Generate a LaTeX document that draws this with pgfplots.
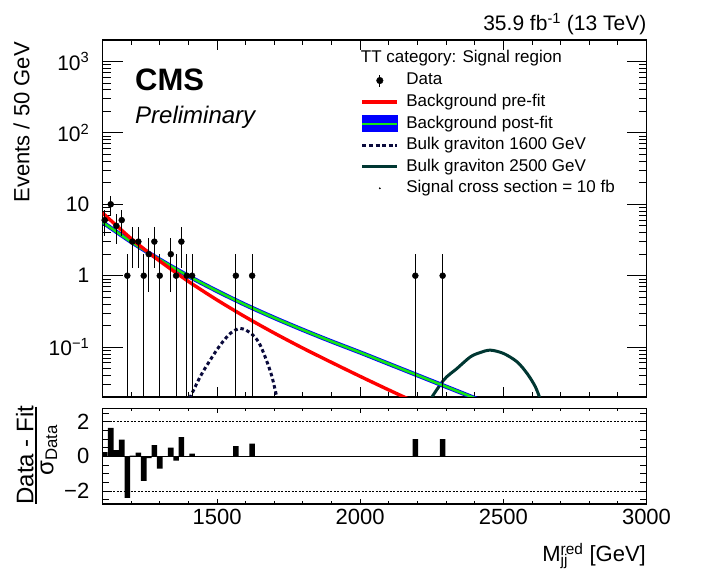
\documentclass[border=0pt]{standalone}
\usepackage{pgfplots}
\pgfplotsset{compat=1.18}
\usepackage{fontspec}
\setmainfont{Liberation Sans}
\definecolor{sigA}{RGB}{10,10,60}
\definecolor{sigB}{RGB}{0,55,50}
\definecolor{pgreen}{RGB}{20,230,20}
\definecolor{pblue}{RGB}{0,0,255}
\begin{document}
\begin{tikzpicture}[x=1pt,y=1pt]
\path[use as bounding box] (0,0) rectangle (701,583);
% ---------------- top panel: x ticks only ----------------
\begin{axis}[at={(102.5pt,186pt)}, anchor=south west,
  scale only axis, width=544pt, height=357pt,
  xmin=1100, xmax=3000, ymin=0.02, ymax=2000, ymode=log,
  axis line style={line width=1.1pt},
  tick align=inside, tick pos=both,
  every tick/.style={black, line width=0.9pt},
  major tick length=10pt, minor tick length=5pt,
  xtick={1500,2000,2500,3000}, xticklabels={},
  minor xtick={1200,1300,1400,1600,1700,1800,1900,2100,2200,2300,2400,2600,2700,2800,2900},
  ytick=\empty, minor ytick={},
]
\addplot[draw=none, forget plot] coordinates {(1200,1) (1300,1)};
\end{axis}
% ---------------- top panel ----------------
\begin{axis}[at={(102.5pt,186pt)}, anchor=south west,
  scale only axis, width=544pt, height=357pt,
  xmin=1100, xmax=3000, ymin=0.02, ymax=2000, ymode=log,
  axis line style={line width=1.1pt},
  tick align=inside, tick pos=both,
  every tick/.style={black, line width=0.9pt},
  major tick length=20pt, minor tick length=8pt,
  xtick=\empty, minor xtick={},
  ytick={0.1,1,10,100,1000},
  yticklabels={10\textsuperscript{−1},1,10,10\textsuperscript{2},10\textsuperscript{3}},
  minor ytick={0.03,0.04,0.05,0.06,0.07,0.08,0.09,0.2,0.3,0.4,0.5,0.6,0.7,0.8,0.9,2,3,4,5,6,7,8,9,20,30,40,50,60,70,80,90,200,300,400,500,600,700,800,900},
  yticklabel style={font=\fontsize{21}{24}\selectfont, inner sep=0pt, xshift=-13pt},
  legend style={at={(axis description cs:0.4746,0.909)}, anchor=north west, draw=none, fill=none,
    inner sep=0pt, outer sep=0pt, row sep=5.4pt, column sep=0pt,
    font=\fontsize{17}{20}\selectfont,
    nodes={inner xsep=7.4pt, inner ysep=0pt, text height=12.5pt, text depth=3.6pt, anchor=west}},
  legend cell align=left,
]
\addlegendimage{legend image code/.code={
  \draw[black, line width=1.1pt] (17.5pt,-6pt) -- (17.5pt,6pt);
  \fill[black] (17.5pt,0pt) circle (3.3pt);
  \path (0pt,0pt) (35pt,0pt);}}
\addlegendentry{Data}
\addlegendimage{legend image code/.code={\draw[red, line width=3.3pt] (0pt,0pt) -- (35pt,0pt);}}
\addlegendentry{Background pre-fit}
\addlegendimage{legend image code/.code={\fill[pblue] (0pt,-8pt) rectangle (35pt,8pt); \draw[pgreen, line width=2pt] (0pt,0pt) -- (35pt,0pt);}}
\addlegendentry{Background post-fit}
\addlegendimage{legend image code/.code={\draw[sigA, line width=3pt, dash pattern=on 4pt off 2.6pt] (0pt,0pt) -- (35pt,0pt);}}
\addlegendentry{Bulk graviton 1600 GeV}
\addlegendimage{legend image code/.code={\draw[sigB, line width=3.3pt] (0pt,0pt) -- (35pt,0pt);}}
\addlegendentry{Bulk graviton 2500 GeV}
\addlegendimage{legend image code/.code={\fill[black] (17.5pt,0pt) circle (0.7pt); \path (0pt,0pt) (35pt,0pt);}}
\addlegendentry{Signal cross section = 10 fb}

% signal 1600
\addplot[forget plot, sigA, line width=3pt, dash pattern=on 3.5pt off 2.8pt, smooth] table {
x y
1395 0.016
1441 0.0383
1476 0.0656
1511 0.1064
1546 0.155
1581 0.1824
1616 0.1585
1645 0.118
1668 0.0730
1692 0.0383
1714 0.016
};
% signal 2500
\addplot[forget plot, sigB, line width=3pt, smooth] table {
x y
2235 0.016
2292 0.0347
2338 0.0501
2385 0.0730
2420 0.0841
2455 0.0906
2501 0.0813
2548 0.0621
2583 0.0427
2612 0.0277
2635 0.016
};
% post-fit band and central value
\addplot[forget plot, pblue, line width=4.3pt, smooth] table {
x y
1100 5.62
1200 2.985
1300 1.679
1400 0.989
1500 0.610
1600 0.389
1700 0.257
1800 0.174
1900 0.120
2000 0.0841
2100 0.0582
2200 0.0403
2300 0.0279
2400 0.0193
2500 0.0133
};
\addplot[forget plot, pgreen, line width=2.6pt, smooth] table {
x y
1100 5.62
1200 2.985
1300 1.679
1400 0.989
1500 0.610
1600 0.389
1700 0.257
1800 0.174
1900 0.120
2000 0.0841
2100 0.0582
2200 0.0403
2300 0.0279
2400 0.0193
2500 0.0133
};
% pre-fit
\addplot[forget plot, red, line width=3.4pt, smooth] table {
x y
1100 7.59
1200 3.31
1300 1.603
1400 0.832
1500 0.457
1600 0.263
1700 0.157
1800 0.0966
1900 0.0610
2000 0.0389
2100 0.0251
2200 0.0164
2300 0.0108
};
% data
\addplot[forget plot, only marks, mark=*, mark size=3pt, black,
  error bars/.cd, y dir=both, y explicit, error mark=none,
  error bar style={line width=1.1pt, black}]
  table[x=x, y=y, y error plus=ep, y error minus=em] {
x y ep em
1107.7 6 2.449 2.449
1128.7 10 3.162 3.162
1148.3 5 2.236 2.236
1167.1 6 2.449 2.449
1186.7 1 1 0.99
1204.2 3 1.732 1.732
1225.2 3 1.732 1.732
1244.0 1 1 0.99
1261.5 2 1.414 1.414
1281.1 3 1.732 1.732
1300.0 1 1 0.99
1338.5 2 1.414 1.414
1357.0 1 1 0.99
1375.5 3 1.732 1.732
1394.4 1 1 0.99
1412.9 1 1 0.99
1565.7 1 1 0.99
1622.7 1 1 0.99
2192.6 1 1 0.99
2288.0 1 1 0.99
};
\end{axis}
% ---------------- ratio panel: x ticks ----------------
\begin{axis}[at={(102.5pt,79pt)}, anchor=south west,
  scale only axis, width=544pt, height=95.3pt,
  xmin=1100, xmax=3000, ymin=-2.75, ymax=2.75,
  axis line style={line width=1.1pt},
  tick align=inside, tick pos=both,
  every tick/.style={black, line width=0.9pt},
  major tick length=4.5pt, minor tick length=2.5pt,
  xtick={1500,2000,2500,3000}, xticklabels={1500,2000,2500,3000},
  minor xtick={1200,1300,1400,1600,1700,1800,1900,2100,2200,2300,2400,2600,2700,2800,2900},
  xticklabel style={font=\fontsize{22}{26}\selectfont, inner sep=0pt, yshift=-5.3pt},
  ytick=\empty, minor ytick={},
]
\addplot[draw=none, forget plot] coordinates {(1200,0) (1300,0)};
\end{axis}
% ---------------- ratio panel ----------------
\begin{axis}[at={(102.5pt,79pt)}, anchor=south west,
  scale only axis, width=544pt, height=95.3pt,
  xmin=1100, xmax=3000, ymin=-2.75, ymax=2.75,
  axis line style={line width=1.1pt},
  tick align=inside, tick pos=both,
  every tick/.style={black, line width=0.9pt},
  major tick length=8pt, minor tick length=6.5pt,
  xtick=\empty, minor xtick={},
  ytick={-2,0,2}, yticklabels={−2,0,2},
  minor ytick={-2.5,-1.5,-1,-0.5,0.5,1,1.5,2.5},
  yticklabel style={font=\fontsize{22}{26}\selectfont, inner sep=0pt, xshift=-13pt},
]
\addplot[ybar, bar width=19.5, bar shift=0pt, fill=black, draw=none] table {
x p
1107.7 0.25
1128.7 1.65
1148.3 0.36
1167.1 0.96
1186.7 -2.39
1204.2 0.04
1225.2 0.21
1244.0 -1.42
1261.5 -0.10
1281.1 0.65
1300.0 -0.71
1338.5 0.50
1357.0 -0.25
1375.5 1.11
1394.4 0.0
1412.9 0.15
1565.7 0.59
1622.7 0.73
2192.6 1.0
2288.0 1.0
};
\addplot[black, line width=1pt] coordinates {(1100,0) (3000,0)};
\addplot[black, line width=0.8pt, dash pattern=on 2pt off 1.5pt] coordinates {(1100,2) (3000,2)};
\addplot[black, line width=0.8pt, dash pattern=on 2pt off 1.5pt] coordinates {(1100,-2) (3000,-2)};
\end{axis}
% ---------------- texts ----------------
\node[anchor=base east, inner sep=0pt, font=\fontsize{21}{25}\selectfont] at (646.5,552.3) {35.9 fb\textsuperscript{-1} (13 TeV)};
\node[anchor=base west, inner sep=0pt, font=\fontsize{31}{36}\selectfont\bfseries] at (135,492.3) {CMS};
\node[anchor=base west, inner sep=0pt, font=\fontsize{24}{28}\selectfont\itshape] at (135,459) {Preliminary};
\node[anchor=base west, inner sep=0pt, font=\fontsize{17}{20}\selectfont] at (360.7,520.3) {TT category: Signal region};
\node[rotate=90, anchor=base east, inner sep=0pt, font=\fontsize{22}{26}\selectfont] at (29.3,541) {Events / 50 GeV};
\node[anchor=base east, inner sep=0pt, font=\fontsize{22}{26}\selectfont] at (646,21.3) {M\rlap{\textsubscript{jj}}\textsuperscript{red} [GeV]};
\node[rotate=90, anchor=base, inner sep=0pt, font=\fontsize{24}{28}\selectfont] at (33.3,127.7) {Data - Fit};
\draw[line width=1.8pt] (35.9,176.3) -- (35.9,78.5);
\node[rotate=90, anchor=base, inner sep=0pt, font=\fontsize{24}{28}\selectfont] at (53.3,133) {σ\textsubscript{Data}};
\end{tikzpicture}
\end{document}
